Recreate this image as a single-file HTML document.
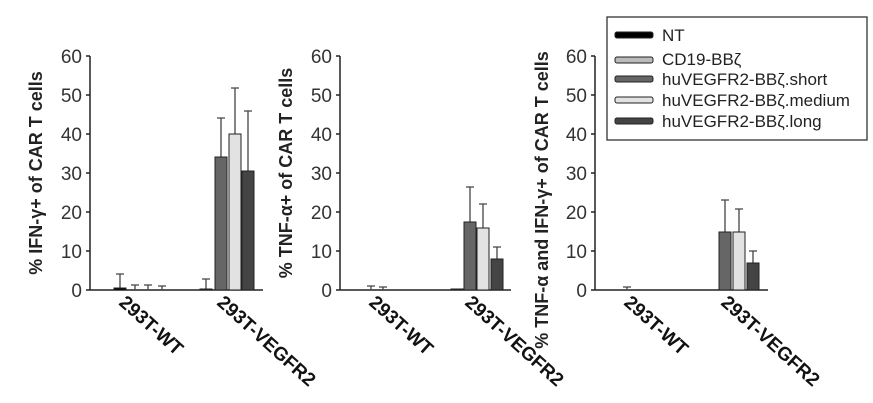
<!DOCTYPE html>
<html><head><meta charset="utf-8"><style>
html,body{margin:0;padding:0;background:#fff;}
svg{display:block;font-family:"Liberation Sans",Arial,sans-serif;}
</style></head><body>
<svg width="873" height="403" viewBox="0 0 873 403" xmlns="http://www.w3.org/2000/svg">
<g stroke="#222" stroke-width="1.5" fill="none">
<line x1="90" y1="56" x2="90" y2="290"/><line x1="90" y1="290" x2="263" y2="290"/>
<line x1="86" y1="56" x2="90" y2="56"/><line x1="86" y1="95" x2="90" y2="95"/><line x1="86" y1="134" x2="90" y2="134"/><line x1="86" y1="173" x2="90" y2="173"/><line x1="86" y1="212" x2="90" y2="212"/><line x1="86" y1="251" x2="90" y2="251"/><line x1="86" y1="290" x2="90" y2="290"/>
<line x1="340" y1="56" x2="340" y2="290"/><line x1="340" y1="290" x2="511" y2="290"/>
<line x1="336" y1="56" x2="340" y2="56"/><line x1="336" y1="95" x2="340" y2="95"/><line x1="336" y1="134" x2="340" y2="134"/><line x1="336" y1="173" x2="340" y2="173"/><line x1="336" y1="212" x2="340" y2="212"/><line x1="336" y1="251" x2="340" y2="251"/><line x1="336" y1="290" x2="340" y2="290"/>
<line x1="595" y1="56" x2="595" y2="290"/><line x1="595" y1="290" x2="768" y2="290"/>
<line x1="591" y1="56" x2="595" y2="56"/><line x1="591" y1="95" x2="595" y2="95"/><line x1="591" y1="134" x2="595" y2="134"/><line x1="591" y1="173" x2="595" y2="173"/><line x1="591" y1="212" x2="595" y2="212"/><line x1="591" y1="251" x2="595" y2="251"/><line x1="591" y1="290" x2="595" y2="290"/>
</g>
<g font-size="19" fill="#333" text-anchor="end">
<text x="82" y="63">60</text><text x="82" y="102">50</text><text x="82" y="141">40</text><text x="82" y="180">30</text><text x="82" y="219">20</text><text x="82" y="258">10</text><text x="82" y="297">0</text>
<text x="332" y="63">60</text><text x="332" y="102">50</text><text x="332" y="141">40</text><text x="332" y="180">30</text><text x="332" y="219">20</text><text x="332" y="258">10</text><text x="332" y="297">0</text>
<text x="587" y="63">60</text><text x="587" y="102">50</text><text x="587" y="141">40</text><text x="587" y="180">30</text><text x="587" y="219">20</text><text x="587" y="258">10</text><text x="587" y="297">0</text>
</g>
<g font-size="18" font-weight="bold" fill="#222" text-anchor="middle">
<text transform="translate(42,173) rotate(-90)">% IFN-γ+ of CAR T cells</text>
<text transform="translate(292,173) rotate(-90)">% TNF-α+ of CAR T cells</text>
<text transform="translate(548,200) rotate(-90)">% TNF-α and IFN-γ+ of CAR T cells</text>
</g>
<g font-size="19" font-weight="bold" fill="#111">
<text transform="translate(118,304) rotate(42)">293T-WT</text>
<text transform="translate(216,304) rotate(42)">293T-VEGFR2</text>
<text transform="translate(368,304) rotate(42)">293T-WT</text>
<text transform="translate(464,304) rotate(42)">293T-VEGFR2</text>
<text transform="translate(623,304) rotate(42)">293T-WT</text>
<text transform="translate(720,304) rotate(42)">293T-VEGFR2</text>
</g>
<g stroke="#444" stroke-width="1.3" fill="none">
<path d="M120 290V274M116 274H124 M135 290V285M131 285H139 M148 290V285M144 285H152 M162 290V286M158 286H166"/>
<path d="M206 290V279M202 279H210"/>
<path d="M221 157V118M217 118H225 M235 134V88M231 88H239 M248 171V111M244 111H252"/>
<path d="M371 290V286M367 286H375 M383 290V287M379 287H387"/>
<path d="M470 222V187M466 187H474 M483 228V204M479 204H487 M497 259V247M493 247H501"/>
<path d="M627 290V287M623 287H631 M638 290V289"/>
<path d="M725 232V200M721 200H729 M739 232V209M735 209H743 M753 263V251M749 251H757"/>
</g>
<g stroke="#222" stroke-width="1">
<rect x="114" y="288" width="12" height="2" fill="#000"/>
<rect x="200" y="289" width="12" height="1" fill="#000"/>
<rect x="215" y="157" width="12" height="133" fill="#666"/>
<rect x="229" y="134" width="12" height="156" fill="#e2e2e2"/>
<rect x="242" y="171" width="12" height="119" fill="#444"/>
<rect x="451" y="289" width="12" height="1" fill="#000"/>
<rect x="464" y="222" width="12" height="68" fill="#666"/>
<rect x="477" y="228" width="12" height="62" fill="#e2e2e2"/>
<rect x="491" y="259" width="12" height="31" fill="#444"/>
<rect x="719" y="232" width="12" height="58" fill="#666"/>
<rect x="733" y="232" width="12" height="58" fill="#e2e2e2"/>
<rect x="747" y="263" width="12" height="27" fill="#444"/>
</g>
<rect x="607" y="17" width="260" height="123" fill="#fff" stroke="#333" stroke-width="1.3"/>
<g stroke="#222" stroke-width="1">
<rect x="615" y="32" width="38" height="6" rx="2" fill="#000"/>
<rect x="615" y="57" width="38" height="6" rx="2" fill="#bbb"/>
<rect x="615" y="76" width="38" height="6" rx="2" fill="#666"/>
<rect x="615" y="97" width="38" height="6" rx="2" fill="#e2e2e2"/>
<rect x="615" y="118" width="38" height="6" rx="2" fill="#444"/>
</g>
<g font-size="17" fill="#222">
<text x="662" y="41">NT</text>
<text x="662" y="65">CD19-BBζ</text>
<text x="662" y="85">huVEGFR2-BBζ.short</text>
<text x="662" y="106">huVEGFR2-BBζ.medium</text>
<text x="662" y="127">huVEGFR2-BBζ.long</text>
</g>
</svg>
</body></html>
